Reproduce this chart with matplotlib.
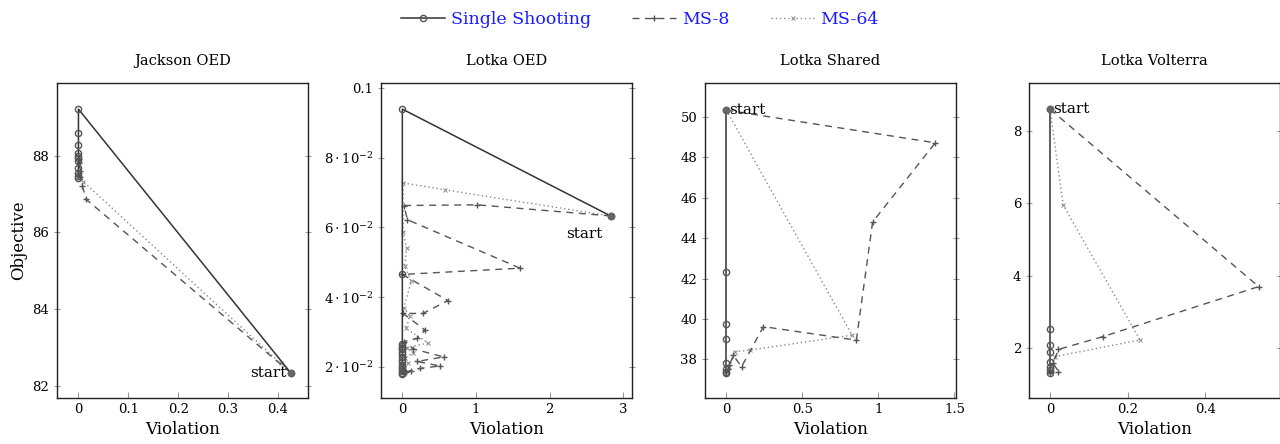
import matplotlib
matplotlib.use("Agg")
import matplotlib.pyplot as plt
from matplotlib.lines import Line2D
from matplotlib.ticker import FuncFormatter

plt.rcParams["font.family"] = ["DejaVu Serif"]
plt.rcParams["mathtext.fontset"] = "dejavuserif"

# ---- data -------------------------------------------------------------
titles = ["Jackson OED", "Lotka OED", "Lotka Shared", "Lotka Volterra"]
methods = ["Single Shooting", "MS-8", "MS-64"]

# Jackson OED
jackson_ss_x = [0.425, 0, 0, 0, 0, 0, 0, 0, 0, 0, 0, 0]
jackson_ss_y = [82.35, 89.21, 88.58, 88.28, 88.08, 88.0, 87.93, 87.86, 87.67, 87.55, 87.47, 87.42]
jackson_ms8_x = [0.425, 0.0155, 0.008, 0.004, 0.003, 0.002, 0.001]
jackson_ms8_y = [82.35, 86.86, 87.2, 87.45, 87.6, 87.8, 87.9]
jackson_ms64_x = [0.425, 0.405, 0.01, 0.004, 0.002, 0.001]
jackson_ms64_y = [82.35, 82.59, 87.32, 87.5, 87.7, 87.85]

# Lotka OED
lotka_oed_ss_x = [2.83, 0, 0, 0, 0, 0, 0, 0, 0, 0, 0, 0, 0, 0, 0, 0, 0, 0]
lotka_oed_ss_y = [0.0633, 0.094, 0.0465, 0.0265, 0.026, 0.0255, 0.025, 0.0243,
                  0.0235, 0.0228, 0.022, 0.0213, 0.0205, 0.0198, 0.0192, 0.0187,
                  0.0183, 0.018]
lotka_oed_ms8_x = [2.83, 1.02, 0.02, 0.07, 1.6, 0.0, 0.62, 0.28, 0.01, 0.31, 0.2,
                   0.02, 0.15, 0.56, 0.2, 0.51, 0.24, 0.12, 0.05, 0.02]
lotka_oed_ms8_y = [0.0633, 0.0665, 0.0663, 0.0622, 0.0483, 0.0465, 0.039, 0.0353,
                   0.0353, 0.0305, 0.0281, 0.0272, 0.0251, 0.0228, 0.0215, 0.0202,
                   0.0195, 0.0189, 0.0185, 0.0182]
lotka_oed_ms64_x = [2.83, 0.58, 0.01, 0.01, 0.06, 0.03, 0.12, 0.02, 0.1, 0.05,
                    0.35, 0.06, 0.15, 0.03, 0.08, 0.02, 0.01]
lotka_oed_ms64_y = [0.0633, 0.0708, 0.0728, 0.0586, 0.054, 0.049, 0.0445, 0.037,
                    0.0345, 0.031, 0.0268, 0.0255, 0.024, 0.0225, 0.021, 0.0195,
                    0.0185]

# Lotka Shared
lotka_shared_ss_x = [0, 0, 0, 0, 0, 0, 0, 0]
lotka_shared_ss_y = [50.33, 42.33, 39.75, 39.02, 37.8, 37.5, 37.4, 37.33]
lotka_shared_ms8_x = [0, 1.374, 0.962, 0.855, 0.244, 0.10, 0.046, 0.02, 0.01, 0.0]
lotka_shared_ms8_y = [50.33, 48.71, 44.8, 38.95, 39.62, 37.63, 38.2, 37.7, 37.5, 37.4]
lotka_shared_ms64_x = [0, 0.827, 0.156, 0.057, 0.02, 0.005]
lotka_shared_ms64_y = [50.33, 39.2, 38.46, 38.38, 37.6, 37.4]

# Lotka Volterra
lotka_volterra_ss_x = [0, 0, 0, 0, 0, 0, 0, 0]
lotka_volterra_ss_y = [8.59, 2.52, 2.09, 1.91, 1.63, 1.49, 1.4, 1.33]
lotka_volterra_ms8_x = [0, 0.538, 0.136, 0.022, 0.008, 0.022, 0.0]
lotka_volterra_ms8_y = [8.59, 3.70, 2.32, 1.97, 1.59, 1.36, 1.33]
lotka_volterra_ms64_x = [0, 0.034, 0.232, 0.013, 0.005, 0.0]
lotka_volterra_ms64_y = [8.59, 5.95, 2.23, 1.77, 1.5, 1.35]

panels = [
    [(jackson_ss_x, jackson_ss_y), (jackson_ms8_x, jackson_ms8_y),
     (jackson_ms64_x, jackson_ms64_y)],
    [(lotka_oed_ss_x, lotka_oed_ss_y), (lotka_oed_ms8_x, lotka_oed_ms8_y),
     (lotka_oed_ms64_x, lotka_oed_ms64_y)],
    [(lotka_shared_ss_x, lotka_shared_ss_y), (lotka_shared_ms8_x, lotka_shared_ms8_y),
     (lotka_shared_ms64_x, lotka_shared_ms64_y)],
    [(lotka_volterra_ss_x, lotka_volterra_ss_y),
     (lotka_volterra_ms8_x, lotka_volterra_ms8_y),
     (lotka_volterra_ms64_x, lotka_volterra_ms64_y)],
]

# ---- styling ----------------------------------------------------------
styles = [
    dict(color="#333333", linestyle="-", linewidth=1.1, marker="o",
         markersize=4.5, markerfacecolor="none", markeredgecolor="#555555",
         markeredgewidth=1.0, zorder=3),
    dict(color="#555555", linestyle=(0, (5, 4)), linewidth=1.0, marker="+",
         markersize=5, markeredgewidth=1.0, zorder=2),
    dict(color="#8a8a8a", linestyle=(0, (1, 2)), linewidth=1.0, marker="x",
         markersize=3.5, markeredgewidth=0.7, zorder=1),
]

xlims = [(-0.043, 0.46), (-0.29, 3.12), (-0.14, 1.51), (-0.054, 0.593)]
ylims = [(81.69, 89.89), (0.011, 0.1015), (36.09, 51.67), (0.63, 9.31)]
xticks = [[0, 0.1, 0.2, 0.3, 0.4], [0, 1, 2, 3], [0, 0.5, 1, 1.5], [0, 0.2, 0.4]]
yticks = [[82, 84, 86, 88], [0.02, 0.04, 0.06, 0.08, 0.1],
          [38, 40, 42, 44, 46, 48, 50], [2, 4, 6, 8]]

lefts = [57, 381, 705, 1029]
W, H = 1280, 444

fig = plt.figure(figsize=(W / 100, H / 100), dpi=100)


def oed_fmt(v, pos):
    if abs(v - 0.1) < 1e-9:
        return "0.1"
    return r"$%d\cdot10^{-2}$" % round(v * 100)


for i, (title, data) in enumerate(zip(titles, panels)):
    ax = fig.add_axes([lefts[i] / W, 46 / H, 251 / W, 315 / H])
    for (xs, ys), st in zip(data, styles):
        ax.plot(xs, ys, **st)
    # start point drawn filled, as all three runs overlap there
    ax.plot(data[0][0][:1], data[0][1][:1], "o", color="#666666",
            markersize=4.5, zorder=4)
    ax.set_xlim(*xlims[i])
    ax.set_ylim(*ylims[i])
    ax.set_xticks(xticks[i])
    ax.set_yticks(yticks[i])
    ax.xaxis.set_major_formatter(FuncFormatter(lambda v, p: "%g" % v))
    if i == 1:
        ax.yaxis.set_major_formatter(FuncFormatter(oed_fmt))
    else:
        ax.yaxis.set_major_formatter(FuncFormatter(lambda v, p: "%g" % v))
    ax.tick_params(labelsize=9.5, color="#999999", length=4, width=0.8,
                   direction="inout", right=True, top=False)
    ax.tick_params(axis="x", direction="in", length=4)
    for sp in ax.spines.values():
        sp.set_color("#222222")
        sp.set_linewidth(1.0)
    ax.set_title(title, fontsize=10.5, pad=13)
    ax.set_xlabel("Violation", fontsize=12, labelpad=4)
    if i == 0:
        ax.set_ylabel("Objective", fontsize=12)

    sx, sy = data[0][0][0], data[0][1][0]
    if i == 0:
        ax.annotate("start", (sx, sy), xytext=(-3, 0), textcoords="offset points",
                    ha="right", va="center", fontsize=11)
    elif i == 1:
        ax.annotate("start", (sx, sy), xytext=(-6, -8), textcoords="offset points",
                    ha="right", va="top", fontsize=11)
    else:
        ax.annotate("start", (sx, sy), xytext=(2, 0), textcoords="offset points",
                    ha="left", va="center", fontsize=11)

handles = [Line2D([], [], **st) for st in styles]
leg = fig.legend(handles, methods, loc="upper center", bbox_to_anchor=(0.5, 1.01),
                 ncol=3, frameon=False, fontsize=12.5, handlelength=2.5,
                 columnspacing=2.4, handletextpad=0.35, labelcolor="#1a1aff")

fig.savefig("out.png", dpi=100)
